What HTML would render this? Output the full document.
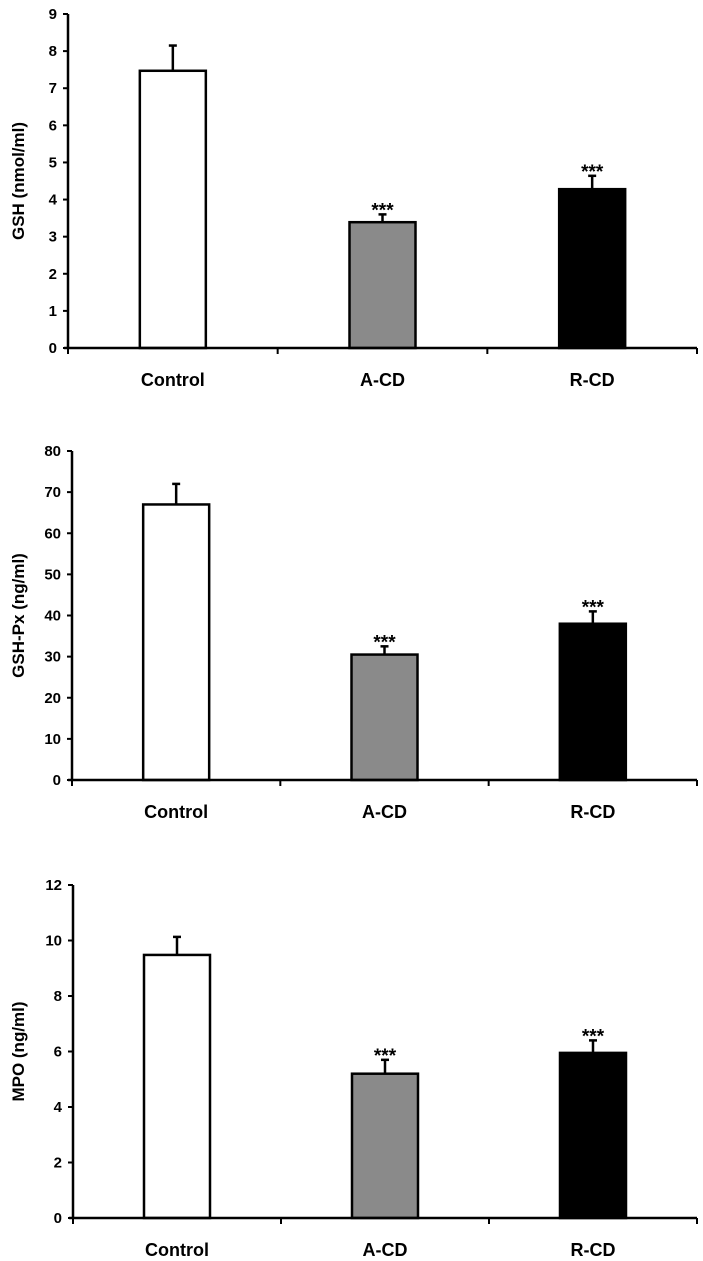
<!DOCTYPE html>
<html><head><meta charset="utf-8"><style>
html,body{margin:0;padding:0;background:#fff;}
svg{display:block;font-family:"Liberation Sans",Arial,sans-serif;font-weight:bold;}
</style></head><body>
<svg id="c" width="703" height="1261"></svg>
<script>
const categories = ["Control","A-CD","R-CD"];
const gshValues = [7.47, 3.39, 4.28];
const gshErrors = [0.68, 0.21, 0.36];
const gshpxValues = [67, 30.5, 38];
const gshpxErrors = [5, 2, 3];
const mpoValues = [9.48, 5.2, 5.95];
const mpoErrors = [0.65, 0.5, 0.45];
const gshTicks = [0,1,2,3,4,5,6,7,8,9];
const gshpxTicks = [0,10,20,30,40,50,60,70,80];
const mpoTicks = [0,2,4,6,8,10,12];
const fills = ["#ffffff","#8a8a8a","#000000"];
const NS="http://www.w3.org/2000/svg";
const svg=document.getElementById('c');
function mk(tag,attrs,parent){const e=document.createElementNS(NS,tag);for(const k in attrs)e.setAttribute(k,attrs[k]);parent.appendChild(e);return e;}
function chart(key,title,values,errors,ticks,x0,x1,yTop,yBot){
  const g=mk('g',{},svg);
  
  
  const ymax=ticks[ticks.length-1];
  const ys=v=>yBot-(v/ymax)*(yBot-yTop);
  const cw=(x1-x0)/categories.length;
  const bw=66;
  values.forEach((v,i)=>{
    const cx=x0+cw*(i+0.5);
    const et=ys(v+errors[i]);
    const el=mk('line',{x1:cx,x2:cx,y1:ys(v),y2:et,stroke:'#000','stroke-width':2.5},g);
    
    
    mk('line',{x1:cx-4,x2:cx+4,y1:et,y2:et,stroke:'#000','stroke-width':2.5},g);
    const r=mk('rect',{x:cx-bw/2,y:ys(v),width:bw,height:yBot-ys(v),fill:fills[i],stroke:'#000','stroke-width':2.5},g);
    
    
    if(i>0){
      const s=mk('text',{x:cx,y:et+2,'text-anchor':'middle','font-size':19},g);
      s.textContent='***';
      
      
    }
    const t=mk('text',{x:cx,y:yBot+38,'text-anchor':'middle','font-size':18},g);
    t.textContent=categories[i];
    
    
  });
  const ya=mk('line',{x1:x0,x2:x0,y1:yTop,y2:yBot+1,stroke:'#000','stroke-width':2.5},g);
  
  
  const xa=mk('line',{x1:x0-4,x2:x1,y1:yBot,y2:yBot,stroke:'#000','stroke-width':2.5},g);
  
  
  for(let i=0;i<=categories.length;i++){
    const tx=x0+cw*i;
    mk('line',{x1:tx,x2:tx,y1:yBot,y2:yBot+6,stroke:'#000','stroke-width':2},g);
  }
  ticks.forEach(tv=>{
    const y=ys(tv);
    mk('line',{x1:x0-5,x2:x0,y1:y,y2:y,stroke:'#000','stroke-width':2},g);
    const t=mk('text',{x:x0-11,y:y+5,'text-anchor':'end','font-size':15},g);
    t.textContent=tv;
    
    
  });
  const cy=(yTop+yBot)/2;
  const at=mk('text',{x:0,y:0,'text-anchor':'middle','font-size':17,transform:'translate(24,'+cy+') rotate(-90)'},g);
  at.textContent=title;
  
  
}
chart('gsh','GSH (nmol/ml)',gshValues,gshErrors,gshTicks,68,697,14,348);
chart('gshpx','GSH-Px (ng/ml)',gshpxValues,gshpxErrors,gshpxTicks,72,697,451,780);
chart('mpo','MPO (ng/ml)',mpoValues,mpoErrors,mpoTicks,73,697,885,1218);
</script>
</body></html>
